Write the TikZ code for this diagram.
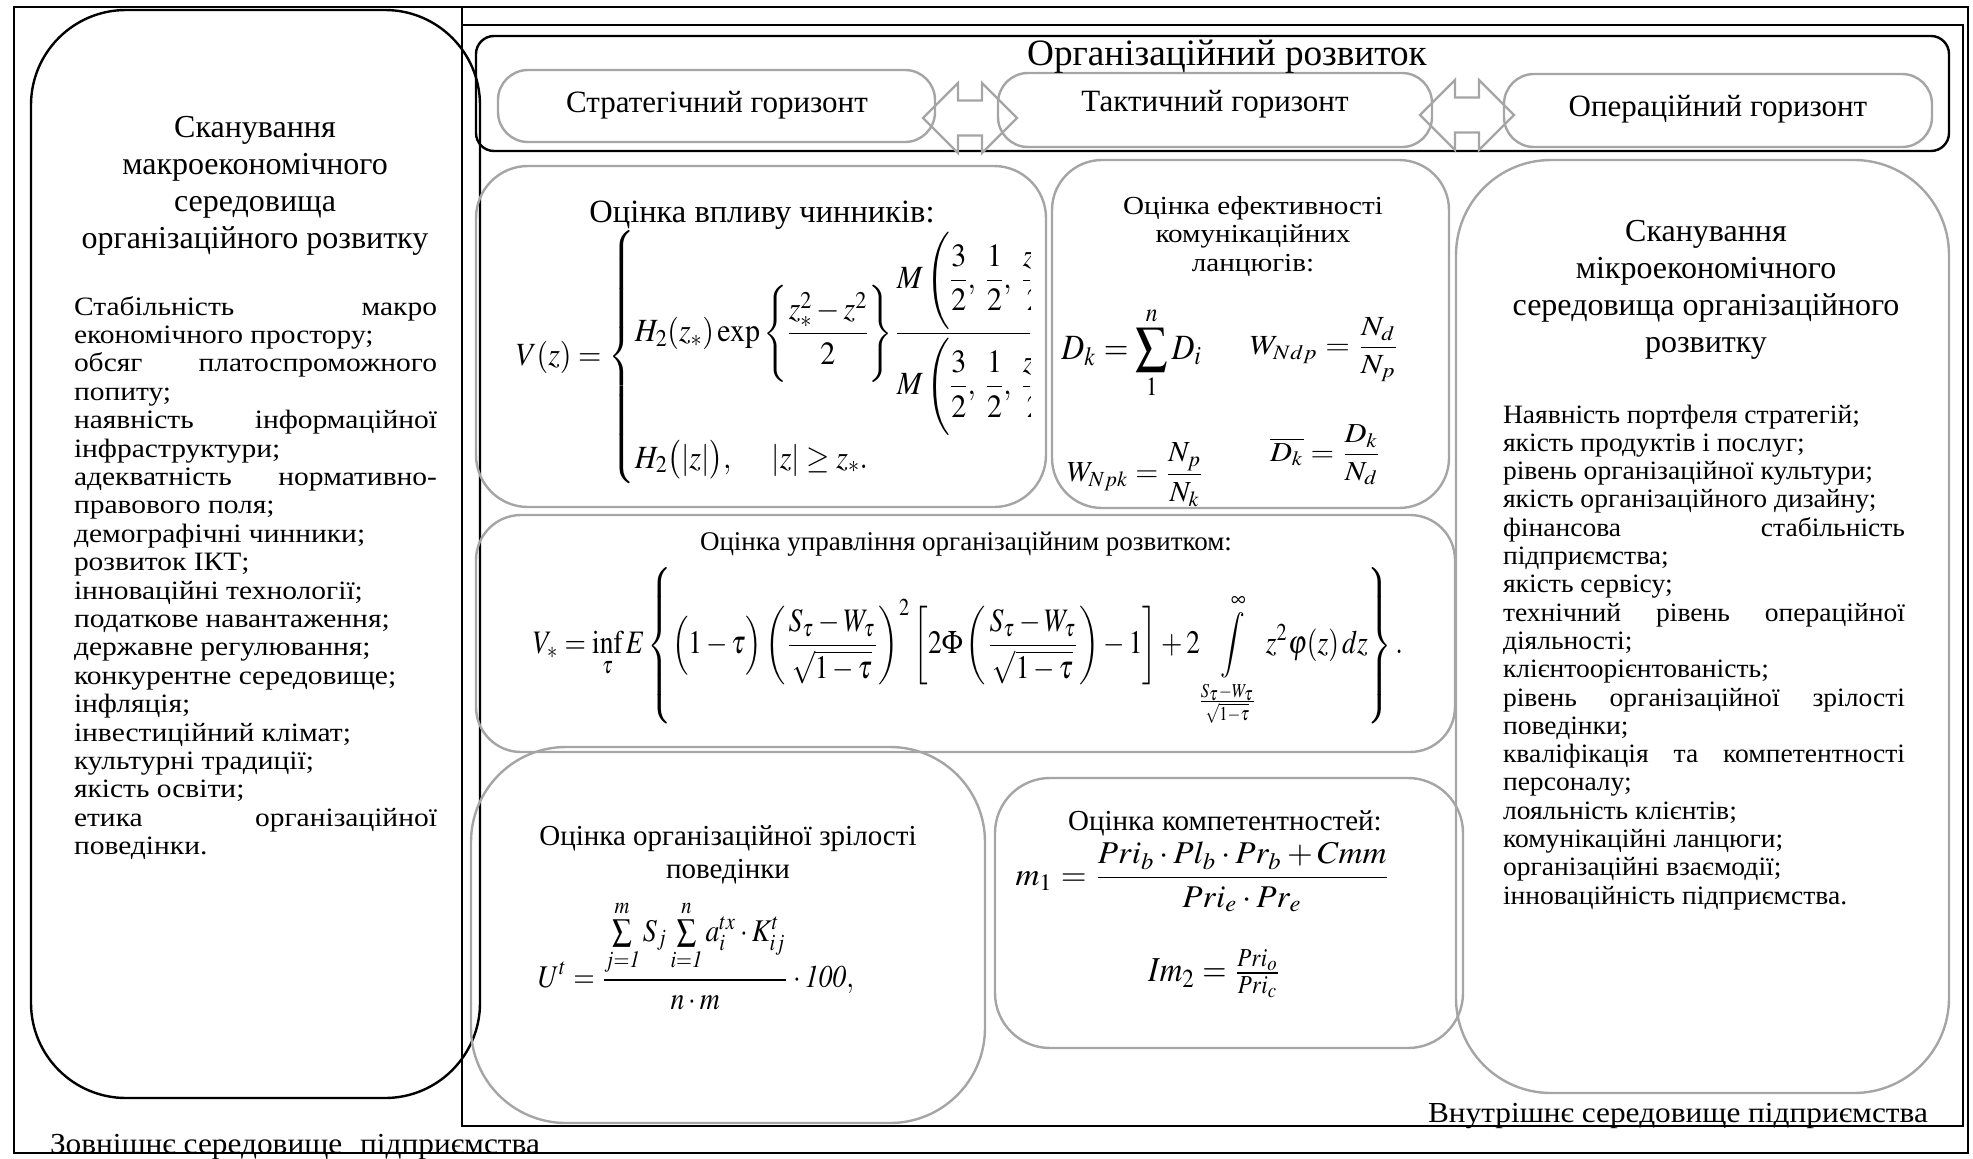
\documentclass[tikz,border=0pt]{standalone}
\usepackage{amsmath}
\usepackage{mathptmx}
\usepackage{fontspec}
\setmainfont{Liberation Serif}
\newfontfamily\wideserif[FakeStretch=1.12]{Liberation Serif}
\newfontfamily\listserif[FakeStretch=1.04]{Liberation Serif}
\newfontfamily\leftserif[FakeStretch=1.113]{Liberation Serif}
\newfontfamily\footserif[FakeStretch=1.08]{Liberation Serif}
\usepackage{graphicx}
\usetikzlibrary{fit}
\definecolor{bgray}{RGB}{165,165,165}
\newcommand\setfs[2]{\fontsize{#1pt}{#2pt}\selectfont}
\tikzset{
  frame/.style={draw=black, line width=2.4pt},
  blk/.style={draw=black, line width=2.4pt, inner sep=0pt, outer sep=0pt},
  gry/.style={draw=bgray, line width=2.4pt, inner sep=0pt, outer sep=0pt},
  txt/.style={inner sep=0pt, outer sep=0pt, text=black},
  garrow/.style={draw=bgray, line width=2.4pt, line join=miter},
}
\begin{document}
\begin{tikzpicture}[x=1pt,y=-1pt]
\useasboundingbox (0,0) rectangle (1973,1159);
% frames
\node[blk, fit={(14,7)(1968,1153)}] (outer) {};
\node[blk, fit={(462,25)(1963,1126)}] (inner) {};
\draw[frame] (inner.north west) -- (inner.north west |- outer.north);
% macro box
\node[blk, rounded corners=95pt, fit={(31,10)(480,1098)}] (macro) {};
% organisational development
\node[blk, rounded corners=18pt, fit={(476,36)(1949,151)}] (org) {};
\node[gry, rounded corners=30pt, fit={(498,70)(935,142)}] (strat) {};
\node[gry, rounded corners=30pt, fit={(998,73)(1432,147)}] (tact) {};
\node[gry, rounded corners=30pt, fit={(1504,74)(1932,147)}] (oper) {};
\draw[garrow] (923,118) -- ++(35,-35) -- ++(0,17.5) -- ++(24,0) -- ++(0,-17.5) -- ++(35,35) -- ++(-35,35) -- ++(0,-17.5) -- ++(-24,0) -- ++(0,17.5) -- cycle;
\draw[garrow] (1420,115) -- ++(35,-35) -- ++(0,17.5) -- ++(24,0) -- ++(0,-17.5) -- ++(35,35) -- ++(-35,35) -- ++(0,-17.5) -- ++(-24,0) -- ++(0,17.5) -- cycle;
% boxes
\node[gry, rounded corners=52pt, fit={(476,166)(1046,507)}] (vplyv) {};
\node[gry, rounded corners=50pt, fit={(1052,160)(1449,508)}] (eff) {};
\node[gry, rounded corners=45pt, fit={(476,515)(1455,752)}] (mgmt) {};
\node[gry, rounded corners=95pt, fit={(471,747)(985,1123)}] (matur) {};
\node[gry, rounded corners=55pt, fit={(995,778)(1463,1048)}] (comp) {};
\node[gry, rounded corners=95pt, fit={(1456,160)(1949,1093)}] (micro) {};
% titles
\node[txt, align=center, font={\setfs{32}{37}}] (macrot) at (255,186) {Сканування\\макроекономічного\\середовища\\організаційного розвитку};
\node[txt, align=center, font={\setfs{32}{37}}] (microt) at (1706,290) {Сканування\\мікроекономічного\\середовища організаційного\\розвитку};
\node[txt, anchor=base, font={\setfs{37.2}{44}}] (orgt) at (1227,65) {Організаційний розвиток};
\node[txt, anchor=base, font={\setfs{31}{36}}] (stratt) at (717,112) {Стратегічний горизонт};
\node[txt, anchor=base, font={\setfs{31}{36}}] (tactt) at (1215,111) {Тактичний горизонт};
\node[txt, anchor=base, font={\setfs{31}{36}}] (opert) at (1718,116) {Операційний горизонт};
\node[txt, anchor=base, font={\setfs{32.5}{37}}] (vplyvt) at (762,222) {Оцінка впливу чинників:};
\node[txt, align=center, font={\wideserif\setfs{26}{28.5}}] (efft) at (1253,236) {Оцінка ефективності\\комунікаційних\\ланцюгів:};
\node[txt, anchor=base, font={\setfs{27}{32}}] (mgmtt) at (966,550) {Оцінка управління організаційним розвитком:};
\node[txt, align=center, font={\setfs{29}{33}}] (maturt) at (728,855) {Оцінка організаційної зрілості\\поведінки};
\node[txt, anchor=base, font={\setfs{29}{33}}] (compt) at (1225,830) {Оцінка компетентностей:};
\node[txt, anchor=base west, font={\footserif\setfs{29}{32}}] (innert) at (1428,1122) {Внутрішнє середовище підприємства};
\node[txt, anchor=base west, font={\footserif\setfs{29}{32}}] (outert) at (50,1153) {Зовнішнє середовище\hspace{0.35em} підприємства};
% lists
\foreach \t [count=\i from 0] in {
  {\hbox to 363pt{Стабільність\hfill макро}},
  економічного простору;,
  {\hbox to 363pt{обсяг\hfill платоспроможного}},
  попиту;,
  {\hbox to 363pt{наявність\hfill інформаційної}},
  інфраструктури;,
  {\hbox to 363pt{адекватність\hfill нормативно-}},
  правового поля;,
  демографічні чинники;,
  розвиток ІКТ;,
  інноваційні технології;,
  податкове навантаження;,
  державне регулювання;,
  конкурентне середовище;,
  інфляція;,
  інвестиційний клімат;,
  культурні традиції;,
  якість освіти;,
  {\hbox to 363pt{етика\hfill організаційної}},
  поведінки.}
  \node[txt, anchor=base west, font={\leftserif\setfs{26.5}{28.4}}] (ml\i) at (74,{315+28.4*\i}) {\t};
\foreach \t [count=\i from 0] in {
  Наявність портфеля стратегій;,
  якість продуктів і послуг;,
  рівень організаційної культури;,
  якість організаційного дизайну;,
  {\hbox to 402pt{фінансова\hfill стабільність}},
  підприємства;,
  якість сервісу;,
  {\hbox to 402pt{технічний\hfill рівень\hfill операційної}},
  діяльності;,
  клієнтоорієнтованість;,
  {\hbox to 402pt{рівень\hfill організаційної\hfill зрілості}},
  поведінки;,
  {\hbox to 402pt{кваліфікація\hfill та\hfill компетентності}},
  персоналу;,
  лояльність клієнтів;,
  комунікаційні ланцюги;,
  організаційні взаємодії;,
  інноваційність підприємства.}
  \node[txt, anchor=base west, font={\listserif\setfs{26.5}{28.3}}] (rl\i) at (1503,{423+28.3*\i}) {\t};
% formulas
\begin{scope}
\clip (476,166) rectangle (1030,507);
\node[txt, anchor=west, font={\setfs{30}{36}}] (vz) at (516,357) {\scalebox{1.0}[1.08]{$V(z)=\begin{cases}
 H_2(z_*)\exp\left\{\dfrac{z_*^2-z^2}{2}\right\}\dfrac{M\left(\dfrac32,\;\dfrac12,\;\dfrac{z^2}{2}\right)}{M\left(\dfrac32,\;\dfrac12,\;\dfrac{z_*^2}{2}\right)}, & |z|<z_*,\\[12pt]
 H_2\bigl(|z|\bigr),\quad\; |z|\ge z_*.
\end{cases}$}};
\end{scope}
\node[txt] (vstar) at (968,647) {\resizebox*{870pt}{160pt}{$\displaystyle V_*=\inf_{\tau}E\left\{\Bigl(1-\tau\Bigr)\left(\frac{S_\tau-W_\tau}{\sqrt{1-\tau}}\right)^{2}\left[2\Phi\left(\frac{S_\tau-W_\tau}{\sqrt{1-\tau}}\right)-1\right]+2\int\limits_{\frac{S_\tau-W_\tau}{\sqrt{1-\tau}}}^{\infty}z^2\varphi(z)\,dz\right\}.$}};
\node[txt] (ut) at (696,955) {\resizebox*{316pt}{110pt}{$\displaystyle U^t=\frac{\sum\limits_{j=\mathit{1}}^{m}S_j\sum\limits_{i=\mathit{1}}^{n}a_i^{tx}\cdot K_{ij}^{t}}{n\cdot m}\cdot\mathit{100},$}};
\node[txt] (m1) at (1203,877) {\resizebox*{375pt}{70pt}{$\displaystyle m_1=\frac{Pri_b\cdot Pl_b\cdot Pr_b+Cmm}{Pri_e\cdot Pr_e}$}};
\node[txt] (im2) at (1215,974) {\resizebox*{134pt}{48pt}{$Im_2=\frac{Pri_o}{Pri_c}$}};
\node[txt] (dk) at (1132,353) {\resizebox*{141pt}{93pt}{$\displaystyle D_k=\sum_{1}^{n}D_i$}};
\node[txt] (wndp) at (1325,350) {\resizebox*{150pt}{64pt}{$\displaystyle W_{Ndp}=\frac{N_d}{N_p}$}};
\node[txt] (wnpk) at (1136,475) {\resizebox*{138pt}{64pt}{$\displaystyle W_{Npk}=\frac{N_p}{N_k}$}};
\node[txt] (dbar) at (1326,455) {\resizebox*{112pt}{60pt}{$\displaystyle \overline{D_k}=\frac{D_k}{N_d}$}};
\end{tikzpicture}
\end{document}
